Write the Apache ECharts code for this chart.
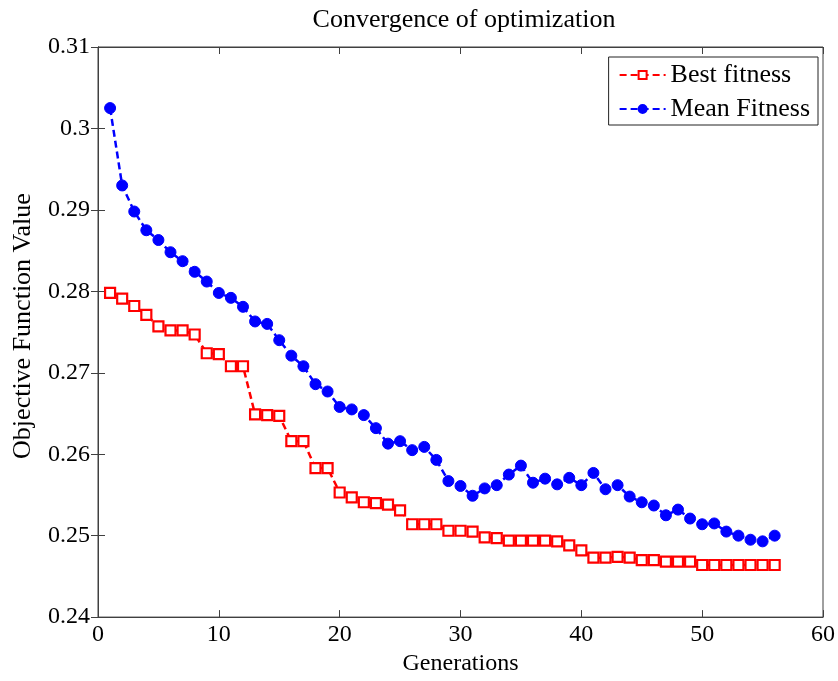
<!DOCTYPE html>
<html>
<head>
<meta charset="utf-8">
<title>Convergence of optimization</title>
<script src="https://cdn.jsdelivr.net/npm/echarts@6/dist/echarts.min.js"></script>
<style>
  html, body { margin: 0; padding: 0; background: #fff; }
  #main { width: 838px; height: 681px; }
</style>
</head>
<body>
<div id="main"></div>
<script>
// 数据
var generations = [1, 2, 3, 4, 5, 6, 7, 8, 9, 10, 11, 12, 13, 14, 15, 16, 17, 18, 19, 20,
  21, 22, 23, 24, 25, 26, 27, 28, 29, 30, 31, 32, 33, 34, 35, 36, 37, 38, 39, 40,
  41, 42, 43, 44, 45, 46, 47, 48, 49, 50, 51, 52, 53, 54, 55, 56]

var bestFitness = [0.2798, 0.2791, 0.2782, 0.2771, 0.2757, 0.2752, 0.2752, 0.2747, 0.2724, 0.2723,
  0.2708, 0.2708, 0.2649, 0.2648, 0.2647, 0.2616, 0.2616, 0.2583, 0.2583, 0.2553,
  0.2547, 0.2541, 0.2540, 0.2538, 0.2531, 0.2514, 0.2514, 0.2514, 0.2506, 0.2506,
  0.2505, 0.2498, 0.2497, 0.2494, 0.2494, 0.2494, 0.2494, 0.2493, 0.2488, 0.2482,
  0.2473, 0.2473, 0.2474, 0.2473, 0.2470, 0.2470, 0.2468, 0.2468, 0.2468, 0.2464,
  0.2464, 0.2464, 0.2464, 0.2464, 0.2464, 0.2464]

var meanFitness = [0.3025, 0.2930, 0.2898, 0.2875, 0.2863, 0.2848, 0.2837, 0.2824, 0.2812, 0.2798,
  0.2792, 0.2781, 0.2763, 0.2760, 0.2740, 0.2721, 0.2708, 0.2686, 0.2677, 0.2658,
  0.2655, 0.2648, 0.2632, 0.2613, 0.2616, 0.2605, 0.2609, 0.2593, 0.2567, 0.2561,
  0.2549, 0.2558, 0.2562, 0.2575, 0.2586, 0.2565, 0.2570, 0.2563, 0.2571, 0.2562,
  0.2577, 0.2557, 0.2562, 0.2548, 0.2541, 0.2537, 0.2525, 0.2532, 0.2521, 0.2514,
  0.2515, 0.2505, 0.2500, 0.2495, 0.2493, 0.2500]

// 坐标轴刻度
var xTicks = { min: 0, max: 60, interval: 10 }
var yTicks = { min: 0.24, max: 0.31, interval: 0.01 }

var fontName = 'Liberation Serif'
var axisColor = '#404040'

function pairs (xs, ys) {
  var out = []
  for (var i = 0; i < xs.length; i++) {
    out.push([xs[i], ys[i]])
  }
  return out
}

var myChart = echarts.init(document.getElementById('main'), null, { renderer: 'canvas' })

var option = {
  animation: false,
  backgroundColor: '#fff',
  title: {
    text: 'Convergence of optimization',
    left: 459,
    top: 2,
    textAlign: 'center',
    textStyle: { fontFamily: fontName, fontSize: 26, fontWeight: 'normal', color: '#000' }
  },
  legend: {
    orient: 'vertical',
    right: 20,
    top: 57,
    padding: [5, 8, 3, 10],
    itemGap: 8,
    itemWidth: 46,
    itemHeight: 10,
    borderColor: '#222',
    borderWidth: 1,
    backgroundColor: '#fff',
    textStyle: { fontFamily: fontName, fontSize: 26, color: '#000' },
    data: ['Best fitness', 'Mean Fitness']
  },
  grid: {
    left: 98,
    right: 13,
    top: 47,
    bottom: 61,
    show: true,
    borderColor: axisColor,
    borderWidth: 1
  },
  xAxis: [{
    type: 'value',
    min: xTicks.min,
    max: xTicks.max,
    interval: xTicks.interval,
    name: 'Generations',
    nameLocation: 'middle',
    nameGap: 32,
    nameTextStyle: { fontFamily: fontName, fontSize: 24, color: '#000' },
    axisLine: { show: true, lineStyle: { color: axisColor } },
    axisTick: { show: true, inside: true, length: 7, lineStyle: { color: axisColor } },
    axisLabel: { fontFamily: fontName, fontSize: 24, color: '#000', margin: 6 },
    splitLine: { show: false }
  }, {
    type: 'value',
    position: 'top',
    min: xTicks.min,
    max: xTicks.max,
    interval: xTicks.interval,
    axisLine: { show: true, lineStyle: { color: axisColor } },
    axisTick: { show: true, inside: true, length: 7, lineStyle: { color: axisColor } },
    axisLabel: { show: false },
    splitLine: { show: false }
  }],
  yAxis: [{
    type: 'value',
    min: yTicks.min,
    max: yTicks.max,
    interval: yTicks.interval,
    name: 'Objective Function Value',
    nameLocation: 'middle',
    nameGap: 62,
    nameTextStyle: { fontFamily: fontName, fontSize: 26, color: '#000', padding: [0, 0, 0, 12] },
    axisLine: { show: true, lineStyle: { color: axisColor } },
    axisTick: { show: true, inside: true, length: 7, lineStyle: { color: axisColor } },
    axisLabel: {
      fontFamily: fontName,
      fontSize: 24,
      color: '#000',
      margin: 8,
      formatter: function (v) { return String(+v.toFixed(2)) }
    },
    splitLine: { show: false }
  }, {
    type: 'value',
    position: 'right',
    min: yTicks.min,
    max: yTicks.max,
    interval: yTicks.interval,
    axisLine: { show: true, lineStyle: { color: axisColor } },
    axisTick: { show: true, inside: true, length: 7, lineStyle: { color: axisColor } },
    axisLabel: { show: false },
    splitLine: { show: false }
  }],
  series: [{
    name: 'Best fitness',
    type: 'line',
    data: pairs(generations, bestFitness),
    symbol: 'rect',
    symbolSize: 10,
    showAllSymbol: true,
    lineStyle: { color: '#ff0000', width: 2.5, type: [7, 4] },
    itemStyle: { color: '#fff', borderColor: '#ff0000', borderWidth: 2.2 },
    z: 3
  }, {
    name: 'Mean Fitness',
    type: 'line',
    data: pairs(generations, meanFitness),
    symbol: 'circle',
    symbolSize: 11,
    showAllSymbol: true,
    lineStyle: { color: '#0000ff', width: 2.5, type: [7, 4] },
    itemStyle: { color: '#0000ff', borderColor: '#0000ff', borderWidth: 1 },
    z: 3
  }]
}

myChart.setOption(option)
</script>
</body>
</html>
